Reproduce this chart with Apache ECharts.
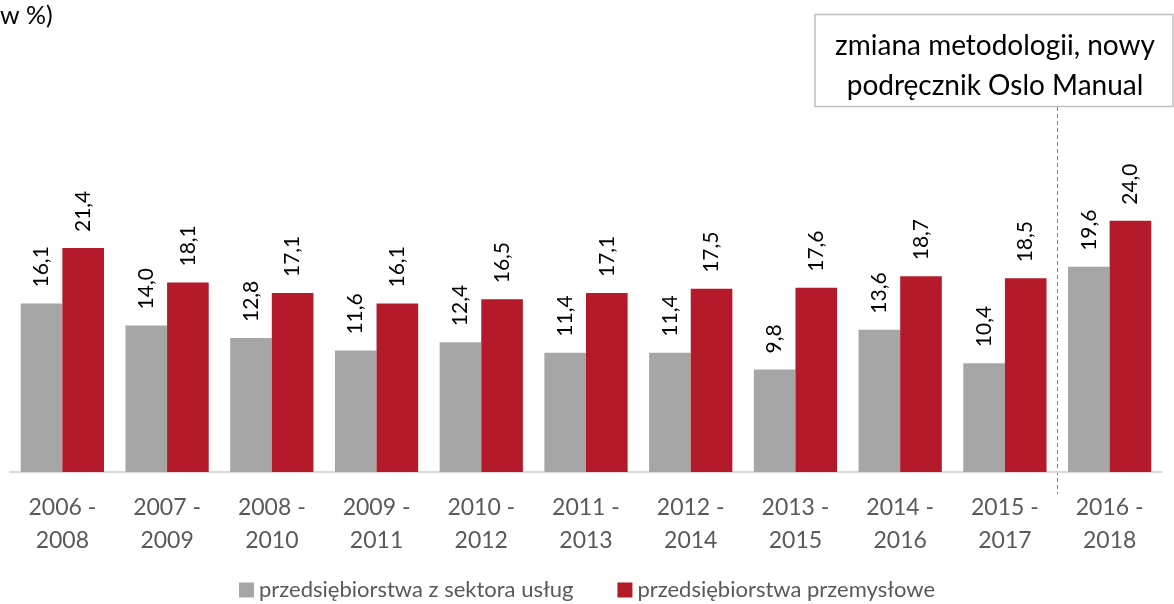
<!DOCTYPE html>
<html>
<head>
<meta charset="utf-8">
<script src="https://cdn.jsdelivr.net/npm/echarts@6/dist/echarts.min.js"></script>
<style>
  html, body { margin: 0; padding: 0; background: #fff; }
  #main { width: 1174px; height: 604px; }
</style>
</head>
<body>
<div id="main"></div>
<script>
const categories = ['2006 -\n2008', '2007 -\n2009', '2008 -\n2010', '2009 -\n2011', '2010 -\n2012',
  '2011 -\n2013', '2012 -\n2014', '2013 -\n2015', '2014 -\n2016', '2015 -\n2017', '2016 -\n2018'];
const uslugi = [16.1, 14.0, 12.8, 11.6, 12.4, 11.4, 11.4, 9.8, 13.6, 10.4, 19.6];
const przemysl = [21.4, 18.1, 17.1, 16.1, 16.5, 17.1, 17.5, 17.6, 18.7, 18.5, 24.0];
const seriesNames = ['przedsiębiorstwa z sektora usług', 'przedsiębiorstwa przemysłowe'];

const FONT = 'Lato, "Open Sans", sans-serif';
const chart = echarts.init(document.getElementById('main'));

const valueLabel = {
  show: true,
  position: 'top',
  rotate: 90,
  align: 'left',
  verticalAlign: 'middle',
  distance: 16,
  fontFamily: FONT,
  fontSize: 21,
  color: '#000',
  formatter: p => p.value.toFixed(1).replace('.', ',')
};

chart.setOption({
  animation: false,
  grid: { left: 10, right: 12, top: 158, bottom: 132 },
  legend: {
    bottom: -2,
    left: 'center',
    itemWidth: 15,
    itemHeight: 15,
    itemGap: 44,
    icon: 'rect',
    textStyle: { fontFamily: FONT, fontSize: 22, color: '#595959' },
    data: seriesNames
  },
  xAxis: {
    type: 'category',
    data: categories,
    axisLine: { lineStyle: { color: '#d9d9d9', width: 2 } },
    axisTick: { show: false },
    axisLabel: { fontFamily: FONT, fontSize: 23, color: '#595959', lineHeight: 33, margin: 19 }
  },
  yAxis: {
    type: 'value',
    min: 0,
    max: 30,
    show: false
  },
  series: [
    {
      name: seriesNames[0],
      type: 'bar',
      data: uslugi,
      barGap: 0,
      barCategoryGap: '20.5%',
      itemStyle: { color: '#a6a6a6' },
      label: valueLabel
    },
    {
      name: seriesNames[1],
      type: 'bar',
      data: przemysl,
      itemStyle: { color: '#b41a2a' },
      label: valueLabel
    }
  ]
});

// przerywana linia między 2015-2017 a 2016-2018 + ramka z opisem
const xa = chart.convertToPixel({ xAxisIndex: 0 }, 9);
const xb = chart.convertToPixel({ xAxisIndex: 0 }, 10);
const xSplit = Math.round((xa + xb) / 2) + 0.5;

chart.setOption({
  graphic: [
    {
      type: 'text',
      left: 0,
      top: 3,
      style: { text: 'w %)', fontFamily: FONT, fontSize: 25, fill: '#000' }
    },
    {
      type: 'line',
      shape: { x1: xSplit, y1: 107, x2: xSplit, y2: 494 },
      style: { stroke: '#3f8fdc', lineWidth: 1, lineDash: [4, 3] }
    },
    {
      type: 'rect',
      shape: { x: 815, y: 14.5, width: 358, height: 92 },
      style: { fill: '#fff', stroke: '#bfbfbf', lineWidth: 1.5 }
    },
    {
      type: 'text',
      x: 995,
      y: 66,
      style: {
        text: 'zmiana metodologii, nowy\npodręcznik Oslo Manual',
        fontFamily: FONT,
        fontSize: 28,
        lineHeight: 40,
        fill: '#000',
        align: 'center',
        verticalAlign: 'middle'
      }
    }
  ]
});
</script>
</body>
</html>
